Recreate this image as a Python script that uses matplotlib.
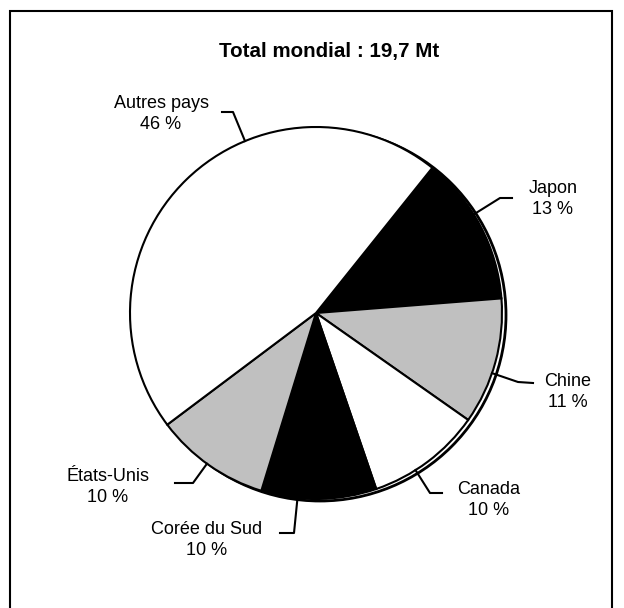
import numpy as np
import matplotlib.pyplot as plt

plt.rcParams['font.family'] = ['Liberation Sans', 'DejaVu Sans']

# données
pays = ["Japon", "Chine", "Canada", "Corée du Sud", "États-Unis", "Autres pays"]
parts = [13, 11, 10, 10, 10, 46]
couleurs = ["black", "#c0c0c0", "white", "black", "#c0c0c0", "white"]
titre = "Total mondial : 19,7 Mt"

# mise en page (pixels, origine en haut à gauche)
W, H = 624, 608
cx, cy, r = 316, 313, 186
coude = [(500, 198), (518, 382), (430, 493), (294, 533), (193, 483), (233, 112)]
fin = [(512, 198), (533, 383), (442, 493), (280, 533), (175, 483), (222, 112)]
pos_txt = [(553, 199), (568, 392), (489, 500), (207, 540), (108, 487), (161, 114)]


def Y(y):
    return H - y


fig = plt.figure(figsize=(W / 100, H / 100), dpi=100)
ax = fig.add_axes([0, 0, 1, 1])

# ombre décalée
ombre = plt.Circle((cx + 4, Y(cy) - 2), r, facecolor="white", edgecolor="black",
                   linewidth=2, zorder=1)
ax.add_patch(ombre)

wedges, _ = ax.pie(parts, colors=couleurs, startangle=51.3, counterclock=False,
                   center=(cx, Y(cy)), radius=r,
                   wedgeprops=dict(edgecolor="black", linewidth=1.5, zorder=2))

# étiquettes et lignes de rappel
for nom, p, (ex, ey), (fx, fy), (tx, ty) in zip(pays, parts, coude, fin, pos_txt):
    dx, dy = ex - cx, ey - cy
    d = np.hypot(dx, dy)
    ax_, ay_ = cx + r * dx / d, cy + r * dy / d
    ax.plot([ax_, ex, fx], [Y(ay_), Y(ey), Y(fy)], color="black", lw=1.5, zorder=3)
    ax.text(tx, Y(ty), f"{nom}\n{p} %", ha="center", va="center", fontsize=13,
            linespacing=1.25)

ax.text(329, Y(52), titre, ha="center", va="center", fontsize=14.8, fontweight="bold")

# cadre
ax.plot([10, 10, 612, 612], [0, Y(11), Y(11), 0], color="black", lw=1.5,
        solid_joinstyle="miter")

ax.set_xlim(0, W)
ax.set_ylim(0, H)
ax.set_aspect("equal")
ax.axis("off")

fig.savefig("out.png", dpi=100)
